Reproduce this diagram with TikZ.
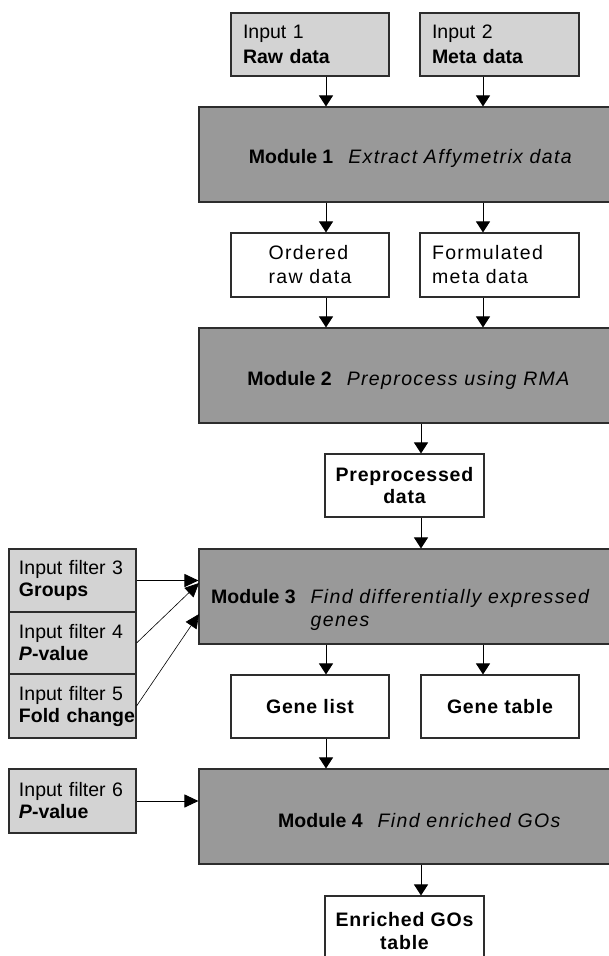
\documentclass[tikz,border=0pt]{standalone}
\usepackage{fontspec}
\setmainfont{Liberation Sans}
\newfontfamily\modfont[LetterSpace=7]{Liberation Sans}
\newfontfamily\boxfont[LetterSpace=4]{Liberation Sans}
\usetikzlibrary{arrows.meta}
\definecolor{inputgray}{RGB}{211,211,211}
\definecolor{modgray}{RGB}{153,153,153}
\definecolor{edgegray}{RGB}{45,45,45}
\newcommand{\modlabel}[2]{{\normalfont\bfseries #1}\hspace{15pt}\textit{#2}}
\begin{document}
\begin{tikzpicture}[x=1pt,y=-1pt,
  every node/.style={font=\fontsize{19.5}{23}\selectfont},
  box/.style={draw=edgegray, line width=1.1pt, inner sep=0pt, rectangle},
  inbox/.style={box, fill=inputgray},
  modbox/.style={box, fill=modgray, minimum width=416pt, minimum height=95pt},
  outbox/.style={box, fill=white},
  modtext/.style={inner sep=0pt, font=\modfont\fontsize{19.5}{23}\selectfont},
  intext/.style={font=\fontsize{19.5}{25}\selectfont},
  filtext/.style={font=\fontsize{19.5}{22}\selectfont},
  boldout/.style={font=\boxfont\bfseries\fontsize{19.5}{23}\selectfont},
  arr/.style={draw=black, line width=1pt, -{Triangle[length=11pt,width=14pt]}},
  thinarr/.style={draw=black, line width=0.6pt, -{Triangle[length=14pt,width=13pt]}},
]
\clip (0,0) rectangle (609,956);
\fill[white] (0,0) rectangle (609,956);
% columns
\coordinate (cA) at (326,0);
\coordinate (cB) at (483,0);
\coordinate (cC) at (421,0);
% inputs
\node[inbox, intext, minimum width=158pt, minimum height=63pt, text width=134pt, align=left] (in1) at (310,44.5) {\mbox{Input 1}\\\mbox{\textbf{Raw data}}};
\node[inbox, intext, minimum width=159pt, minimum height=63pt, text width=135pt, align=left] (in2) at (499.5,44.5) {\mbox{Input 2}\\\mbox{\textbf{Meta data}}};
% module 1
\node[modbox] (m1) at (407,154.5) {};
\node[modtext, anchor=base] (m1t) at (411,163) {\modlabel{Module 1}{Extract Affymetrix data}};
% intermediate
\node[outbox, minimum width=158pt, minimum height=64pt, align=left, font=\modfont\fontsize{19.5}{24}\selectfont] (ord) at (310,265) {Ordered\\raw data};
\node[outbox, minimum width=159pt, minimum height=64pt, text width=135pt, align=left, font=\modfont\fontsize{19.5}{24}\selectfont] (form) at (499.5,265) {\mbox{Formulated}\\\mbox{meta data}};
% module 2
\node[modbox] (m2) at (407,375.5) {};
\node[modtext, anchor=base] (m2t) at (409,385) {\modlabel{Module 2}{Preprocess using RMA}};
% preprocessed
\node[outbox, minimum width=159pt, minimum height=63pt, align=center, font=\boxfont\bfseries\fontsize{19.5}{22}\selectfont] (pre) at (404.5,485.5) {Preprocessed\\data};
% module 3
\node[modbox] (m3) at (407,596.5) {};
\node[modtext, anchor=west, align=left] (m3t) at (211,610) {\modlabel{Module 3}{Find differentially expressed}\\\phantom{{\normalfont\bfseries Module 3}\hspace{15pt}}\textit{genes}};
% filters
\node[inbox, filtext, minimum width=127pt, minimum height=63pt, text width=107pt, align=left] (f3) at (72.5,580.5) {\mbox{Input filter 3}\\\mbox{\textbf{Groups}}};
\node[inbox, filtext, minimum width=127pt, minimum height=62pt, text width=107pt, align=left] (f4) at (72.5,643) {\mbox{Input filter 4}\\\mbox{\textbf{\textit{P}-value}}};
\node[inbox, filtext, minimum width=127pt, minimum height=64pt, text width=107pt, align=left] (f5) at (72.5,706) {\mbox{Input filter 5}\\\mbox{\textbf{Fold change}}};
\node[inbox, filtext, minimum width=127pt, minimum height=64pt, text width=107pt, align=left] (f6) at (72.5,801) {\mbox{Input filter 6}\\\mbox{\textbf{\textit{P}-value}}};
% gene outputs
\node[outbox, boldout, minimum width=158pt, minimum height=63pt] (gl) at (310,706.5) {Gene list};
\node[outbox, boldout, minimum width=158pt, minimum height=63pt] (gt) at (500,706.5) {Gene table};
% module 4
\node[modbox] (m4) at (407,816.5) {};
\node[modtext, anchor=base] (m4t) at (420,827) {\modlabel{Module 4}{Find enriched GOs}};
% enriched
\node[outbox, boldout, minimum width=159pt, minimum height=70pt, align=center] (enr) at (404.5,931) {Enriched GOs\\table};
% arrow tips on module 3
\coordinate (t4) at (199,583);
\coordinate (t5) at (199,614);
% connectors
\draw[arr] (in1.south -| cA) -- (m1.north -| cA);
\draw[arr] (in2.south -| cB) -- (m1.north -| cB);
\draw[arr] (m1.south -| cA) -- (ord.north -| cA);
\draw[arr] (m1.south -| cB) -- (form.north -| cB);
\draw[arr] (ord.south -| cA) -- (m2.north -| cA);
\draw[arr] (form.south -| cB) -- (m2.north -| cB);
\draw[arr] (m2.south -| cC) -- (pre.north -| cC);
\draw[arr] (pre.south -| cC) -- (m3.north -| cC);
\draw[arr] (m3.south -| cA) -- (gl.north -| cA);
\draw[arr] (m3.south -| cB) -- (gt.north -| cB);
\draw[arr] (gl.south -| cA) -- (m4.north -| cA);
\draw[arr] (m4.south -| cC) -- (enr.north -| cC);
\draw[thinarr, line width=1pt] (f3.east) -- (m3.west |- f3.east);
\draw[thinarr] (f4.east) -- (t4);
\draw[thinarr] (f5.east) -- (t5);
\draw[thinarr, line width=1pt] (f6.east) -- (m4.west |- f6.east);
\end{tikzpicture}
\end{document}
